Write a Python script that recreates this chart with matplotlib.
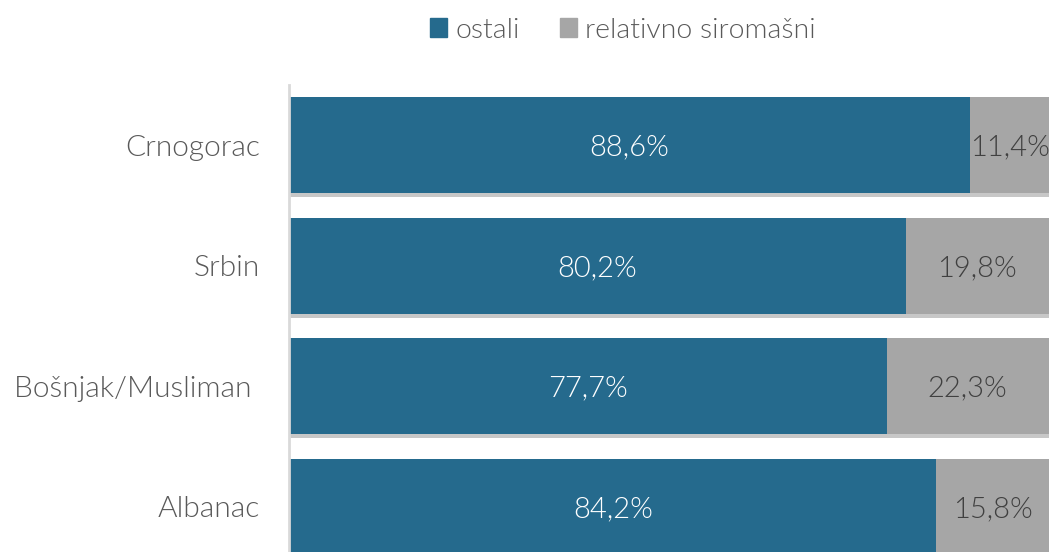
import matplotlib.pyplot as plt
import matplotlib.patheffects as pe
from matplotlib.patches import Patch

# ── Data ──────────────────────────────────────────────────────────────────────

groups   = ["Crnogorac", "Srbin", "Bošnjak/Musliman ", "Albanac"]
ostali   = [88.6, 80.2, 77.7, 84.2]
siromasi = [11.4, 19.8, 22.3, 15.8]
labels   = ["ostali", "relativno siromašni"]

# ── Style ─────────────────────────────────────────────────────────────────────

BLUE  = "#256A8D"
GREY  = "#A6A6A6"
TEXT  = "#595959"
DARK  = "#404040"
W     = 300   # light weight

plt.rcParams["font.family"] = ["Lato", "DejaVu Sans"]

fig = plt.figure(figsize=(10.49, 5.52), dpi=100)
ax = fig.add_axes([289 / 1049, -15 / 552, 769 / 1049, 482 / 552])

shadow = [pe.SimplePatchShadow(offset=(0.5, -3), shadow_rgbFace="#000000", alpha=0.22), pe.Normal()]

y = range(len(groups))
b1 = ax.barh(y, ostali, height=0.795, color=BLUE, label=labels[0])
b2 = ax.barh(y, siromasi, left=ostali, height=0.795, color=GREY, label=labels[1])
for bar in list(b1) + list(b2):
    bar.set_path_effects(shadow)

for i, (a, b) in enumerate(zip(ostali, siromasi)):
    ax.text(a / 2, i + 0.02, f"{a:.1f}%".replace(".", ","), ha="center", va="center",
            color="white", fontsize=21, fontweight=W)
    ax.text(a + b / 2 - 0.6, i + 0.02, f"{b:.1f}%".replace(".", ","), ha="center", va="center",
            color=DARK, fontsize=21, fontweight=W)

ax.set_xlim(0, 100)
ax.set_ylim(len(groups) - 0.5, -0.5)
ax.set_yticks(list(y))
ax.set_yticklabels(groups, fontsize=21.5, color=TEXT, fontweight=W)
ax.tick_params(axis="y", length=0, pad=21)
ax.set_xticks([])

for side in ["top", "right", "bottom"]:
    ax.spines[side].set_visible(False)
ax.spines["left"].set_color("#D9D9D9")
ax.spines["left"].set_linewidth(2)

handles = [Patch(color=BLUE), Patch(color=GREY)]
fig.legend(handles, labels, loc="center", bbox_to_anchor=(623 / 1049, 1 - 30 / 552),
           ncol=2, frameon=False, labelcolor=TEXT,
           prop={"weight": W, "size": 20.5},
           handlelength=0.6, handleheight=0.6, handletextpad=0.3, columnspacing=1.4)

fig.savefig("out.png", dpi=100)
